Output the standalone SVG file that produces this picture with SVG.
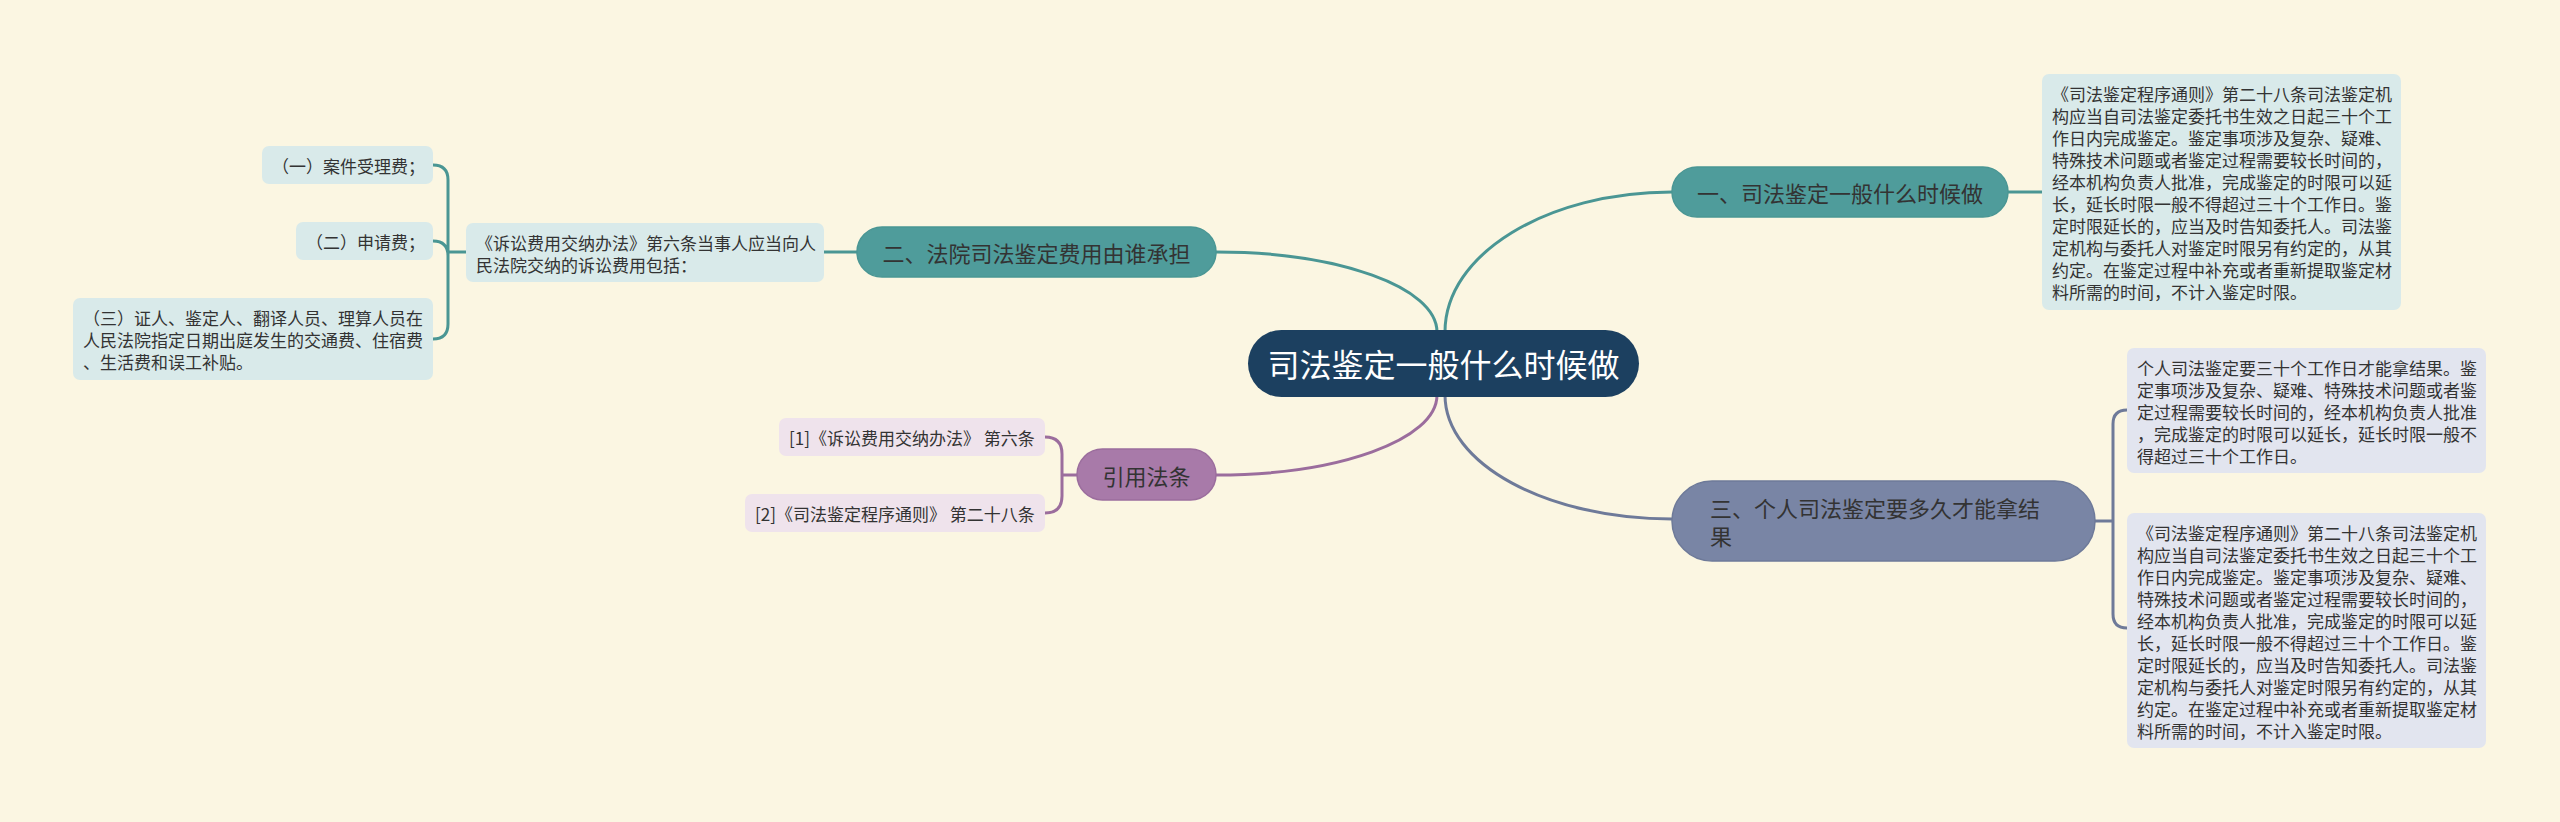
<svg xmlns="http://www.w3.org/2000/svg" width="2560" height="822" viewBox="0 0 2560 822">
<style>
text{font-family:"Noto Sans CJK SC","Noto Sans",sans-serif;fill:#333333;}
.d{font-size:17px;dominant-baseline:central;}
.b{font-size:22px;dominant-baseline:central;}
.c{font-size:32px;dominant-baseline:central;fill:#ffffff;}
.mid{text-anchor:middle;}
.ct{fill:none;stroke:#4a9694;stroke-width:3;}
.cs{fill:none;stroke:#6e7a99;stroke-width:3;}
.cp{fill:none;stroke:#9b6d9d;stroke-width:3;}
.bt{fill:#d9eaea;}
.bs{fill:#e2e5ef;}
.bp{fill:#efe3ec;}
</style>
<rect x="0" y="0" width="2560" height="822" fill="#fbf6e2"/>
<g id="connectors">
<path class="ct" d="M1445,332 C1445,254 1547,192 1672,192"/>
<path class="ct" d="M1437,332 C1437,287 1338,252 1216,252"/>
<path class="cp" d="M1437,395 C1437,440 1338,475 1216,475"/>
<path class="cs" d="M1445,395 C1445,464 1547,519 1672,519"/>
<path class="ct" d="M2008,192 L2042,192"/>
<path class="cs" d="M2095,521 L2113,521 M2127,410 Q2113,410 2113,424 L2113,614 Q2113,628 2127,628"/>
<path class="ct" d="M824,252 L857,252"/>
<path class="ct" d="M466,252 L448,252 M433,165 Q448,165 448,180 L448,324 Q448,339 433,339 M433,241 Q448,241 448,256"/>
<path class="cp" d="M1077,475 L1062,475 M1045,437 Q1062,437 1062,454 L1062,496 Q1062,513 1045,513"/>
</g>
<g id="center">
<rect x="1248" y="330" width="391" height="67" rx="33.5" fill="#1c4060"/>
<text class="c mid" x="1443.5" y="363">司法鉴定一般什么时候做</text>
</g>
<g id="branch1">
<rect x="1672" y="167" width="336" height="50" rx="25" fill="#4f9c9b" stroke="#4a9694" stroke-width="1.5"/>
<text class="b mid" x="1840" y="192">一、司法鉴定一般什么时候做</text>
</g>
<g id="branch1-detail">
<rect class="bt" x="2042" y="74" width="359" height="236" rx="7"/>
<text class="d" x="2052" y="93">《司法鉴定程序通则》第二十八条司法鉴定机</text>
<text class="d" x="2052" y="115">构应当自司法鉴定委托书生效之日起三十个工</text>
<text class="d" x="2052" y="137">作日内完成鉴定。鉴定事项涉及复杂、疑难、</text>
<text class="d" x="2052" y="159">特殊技术问题或者鉴定过程需要较长时间的，</text>
<text class="d" x="2052" y="181">经本机构负责人批准，完成鉴定的时限可以延</text>
<text class="d" x="2052" y="203">长，延长时限一般不得超过三十个工作日。鉴</text>
<text class="d" x="2052" y="225">定时限延长的，应当及时告知委托人。司法鉴</text>
<text class="d" x="2052" y="247">定机构与委托人对鉴定时限另有约定的，从其</text>
<text class="d" x="2052" y="269">约定。在鉴定过程中补充或者重新提取鉴定材</text>
<text class="d" x="2052" y="291">料所需的时间，不计入鉴定时限。</text>
</g>
<g id="branch3">
<rect x="1672" y="481" width="423" height="80" rx="40" fill="#7985a5" stroke="#6e7a99" stroke-width="1.5"/>
<text class="b" x="1710" y="507">三、个人司法鉴定要多久才能拿结</text>
<text class="b" x="1710" y="535">果</text>
</g>
<g id="branch3-detail-a">
<rect class="bs" x="2127" y="348" width="359" height="125" rx="7"/>
<text class="d" x="2137" y="367">个人司法鉴定要三十个工作日才能拿结果。鉴</text>
<text class="d" x="2137" y="389">定事项涉及复杂、疑难、特殊技术问题或者鉴</text>
<text class="d" x="2137" y="411">定过程需要较长时间的，经本机构负责人批准</text>
<text class="d" x="2137" y="433">，完成鉴定的时限可以延长，延长时限一般不</text>
<text class="d" x="2137" y="455">得超过三十个工作日。</text>
</g>
<g id="branch3-detail-b">
<rect class="bs" x="2127" y="513" width="359" height="235" rx="7"/>
<text class="d" x="2137" y="532">《司法鉴定程序通则》第二十八条司法鉴定机</text>
<text class="d" x="2137" y="554">构应当自司法鉴定委托书生效之日起三十个工</text>
<text class="d" x="2137" y="576">作日内完成鉴定。鉴定事项涉及复杂、疑难、</text>
<text class="d" x="2137" y="598">特殊技术问题或者鉴定过程需要较长时间的，</text>
<text class="d" x="2137" y="620">经本机构负责人批准，完成鉴定的时限可以延</text>
<text class="d" x="2137" y="642">长，延长时限一般不得超过三十个工作日。鉴</text>
<text class="d" x="2137" y="664">定时限延长的，应当及时告知委托人。司法鉴</text>
<text class="d" x="2137" y="686">定机构与委托人对鉴定时限另有约定的，从其</text>
<text class="d" x="2137" y="708">约定。在鉴定过程中补充或者重新提取鉴定材</text>
<text class="d" x="2137" y="730">料所需的时间，不计入鉴定时限。</text>
</g>
<g id="branch2">
<rect x="857" y="227" width="359" height="50" rx="25" fill="#4f9c9b" stroke="#4a9694" stroke-width="1.5"/>
<text class="b mid" x="1036.5" y="252">二、法院司法鉴定费用由谁承担</text>
</g>
<g id="branch2-detail">
<rect class="bt" x="466" y="223" width="358" height="59" rx="7"/>
<text class="d" x="476" y="242">《诉讼费用交纳办法》第六条当事人应当向人</text>
<text class="d" x="476" y="264">民法院交纳的诉讼费用包括：</text>
</g>
<g id="fee1">
<rect class="bt" x="262" y="146" width="171" height="38" rx="7"/>
<text class="d" x="272" y="165">（一）案件受理费；</text>
</g>
<g id="fee2">
<rect class="bt" x="296" y="222" width="137" height="38" rx="7"/>
<text class="d" x="306" y="241">（二）申请费；</text>
</g>
<g id="fee3">
<rect class="bt" x="73" y="298" width="360" height="82" rx="7"/>
<text class="d" x="83" y="317">（三）证人、鉴定人、翻译人员、理算人员在</text>
<text class="d" x="83" y="339">人民法院指定日期出庭发生的交通费、住宿费</text>
<text class="d" x="83" y="361">、生活费和误工补贴。</text>
</g>
<g id="citations">
<rect x="1077" y="449" width="139" height="51" rx="25.5" fill="#a87aa9" stroke="#9b6d9d" stroke-width="1.5"/>
<text class="b mid" x="1146.5" y="475">引用法条</text>
</g>
<g id="cite1">
<rect class="bp" x="779" y="418" width="266" height="38" rx="7"/>
<text class="d" x="789" y="437">[1]《诉讼费用交纳办法》 第六条</text>
</g>
<g id="cite2">
<rect class="bp" x="745" y="494" width="300" height="38" rx="7"/>
<text class="d" x="755" y="513">[2]《司法鉴定程序通则》 第二十八条</text>
</g>
</svg>
